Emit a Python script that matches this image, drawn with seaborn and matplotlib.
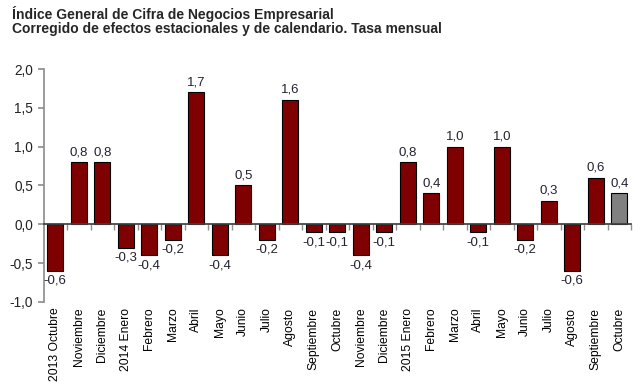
import matplotlib

matplotlib.use("Agg")

import matplotlib.pyplot as plt
import pandas as pd
import seaborn as sns
from matplotlib.ticker import FixedLocator, FuncFormatter

months = ["2013 Octubre", "Noviembre", "Diciembre", "2014 Enero", "Febrero", "Marzo",
          "Abril", "Mayo", "Junio", "Julio", "Agosto", "Septiembre", "Octubre",
          "Noviembre", "Diciembre", "2015 Enero", "Febrero", "Marzo", "Abril", "Mayo",
          "Junio", "Julio", "Agosto", "Septiembre", "Octubre"]
values = [-0.6, 0.8, 0.8, -0.3, -0.4, -0.2, 1.7, -0.4, 0.5, -0.2, 1.6, -0.1, -0.1,
          -0.4, -0.1, 0.8, 0.4, 1.0, -0.1, 1.0, -0.2, 0.3, -0.6, 0.6, 0.4]
# last month is provisional -> grey
colors = ["#7f0000"] * (len(values) - 1) + ["#808080"]

df = pd.DataFrame({"pos": range(len(values)), "value": values})

sns.set_theme(style="white")
plt.rcParams["font.family"] = ["Liberation Sans", "DejaVu Sans"]

fig, ax = plt.subplots(figsize=(6.4, 3.88), dpi=100)
fig.subplots_adjust(left=0.068, right=0.986, top=0.822, bottom=0.222)

sns.barplot(data=df, x="pos", y="value", hue="pos", palette=colors, legend=False,
            width=0.68, edgecolor="black", linewidth=0.8, saturation=1, ax=ax)

for cont in ax.containers:
    ax.bar_label(cont, fmt=lambda v: f"{v:.1f}".replace(".", ","), padding=3,
                 fontsize=9.5, color="#222230")

ax.set_ylim(-1.0, 2.0)
ax.set_xlim(-0.5, len(values) - 0.5)
ax.set_yticks([-1.0, -0.5, 0.0, 0.5, 1.0, 1.5, 2.0])
ax.yaxis.set_major_formatter(FuncFormatter(lambda v, p: f"{v:.1f}".replace(".", ",")))
ax.set_xticks(range(len(values)))
ax.set_xticklabels(months)
ax.xaxis.set_minor_locator(FixedLocator([i + 0.5 for i in range(len(values))]))
ax.set_xlabel("")
ax.set_ylabel("")

for s in ["top", "right"]:
    ax.spines[s].set_visible(False)
ax.spines["bottom"].set_position(("data", 0))
ax.spines["bottom"].set_color("#404040")
ax.spines["left"].set_color("#909090")

ax.tick_params(axis="x", which="major", length=0, pad=60, labelrotation=90,
               labelsize=8.7, labelcolor="black")
for lab in ax.get_xticklabels():
    lab.set_verticalalignment("top")
ax.tick_params(axis="x", which="minor", length=4, direction="out", color="#909090", bottom=True)
ax.tick_params(axis="y", length=4, direction="out", color="#909090", left=True,
               labelsize=9.8, labelcolor="#222222")

fig.text(0.019, 0.985, "Índice General de Cifra de Negocios Empresarial\n"
         "Corregido de efectos estacionales y de calendario. Tasa mensual",
         ha="left", va="top", fontsize=10, fontweight="bold", linespacing=1.05)

fig.savefig("out.png", dpi=100)
plt.close(fig)
